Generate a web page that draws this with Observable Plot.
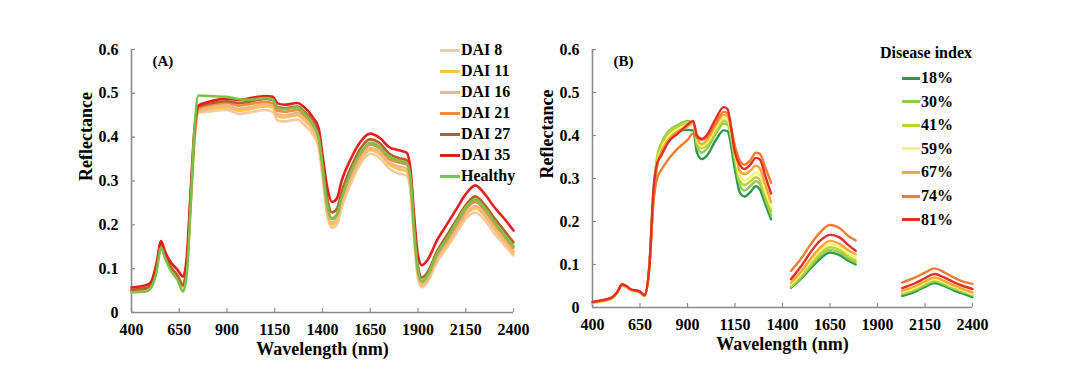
<!DOCTYPE html>
<html><head><meta charset="utf-8">
<script src="https://cdn.jsdelivr.net/npm/d3@7"></script>
<script src="https://cdn.jsdelivr.net/npm/@observablehq/plot@0.6"></script>
<style>
body{margin:0;background:#fff;}
#wrap{position:relative;width:1080px;height:379px;overflow:hidden;font-family:"Liberation Serif","Times New Roman",serif;font-weight:bold;color:#000;}
.panel{position:absolute;top:0;}
.leg{position:absolute;font-size:16px;line-height:18px;height:18px;display:flex;align-items:center;white-space:nowrap;}
.sw{display:inline-block;height:3px;margin-right:1px;}
</style></head>
<body><div id="wrap"></div>
<script>
// ---------- Panel A data ----------
const seriesA = ["DAI 8", "DAI 11", "DAI 16", "DAI 21", "DAI 27", "DAI 35", "Healthy"];
const colorsA = ["#f6c8a6", "#f9c646", "#f2b48c", "#ee8d3c", "#b8602a", "#e3201f", "#7cc24a"];
const wavelengthsA = [400, 475, 500, 530, 555, 575, 600, 640, 670, 690, 710, 730, 750, 800, 900, 960, 1000, 1100, 1140, 1165, 1200, 1270, 1300, 1350, 1380, 1400, 1425, 1450, 1475, 1500, 1550, 1600, 1650, 1700, 1750, 1800, 1840, 1860, 1880, 1900, 1920, 1950, 2000, 2050, 2100, 2150, 2200, 2250, 2300, 2350, 2400];
const dai8 = [0.05, 0.053, 0.06, 0.097, 0.155, 0.128, 0.104, 0.08, 0.06, 0.1, 0.245, 0.395, 0.455, 0.458, 0.462, 0.453, 0.455, 0.462, 0.458, 0.438, 0.436, 0.44, 0.43, 0.405, 0.375, 0.31, 0.22, 0.193, 0.2, 0.238, 0.296, 0.34, 0.362, 0.352, 0.328, 0.317, 0.312, 0.28, 0.165, 0.078, 0.057, 0.07, 0.115, 0.147, 0.18, 0.214, 0.228, 0.21, 0.18, 0.155, 0.13];
const dai11 = [0.05, 0.053, 0.06, 0.097, 0.154, 0.127, 0.103, 0.079, 0.058, 0.1, 0.25, 0.398, 0.458, 0.463, 0.468, 0.46, 0.462, 0.47, 0.467, 0.447, 0.445, 0.45, 0.44, 0.415, 0.385, 0.32, 0.23, 0.2, 0.209, 0.247, 0.305, 0.348, 0.37, 0.361, 0.337, 0.327, 0.322, 0.29, 0.175, 0.085, 0.063, 0.076, 0.122, 0.154, 0.188, 0.222, 0.238, 0.22, 0.19, 0.163, 0.136];
const dai16 = [0.05, 0.053, 0.06, 0.098, 0.155, 0.128, 0.104, 0.08, 0.06, 0.105, 0.255, 0.4, 0.46, 0.466, 0.472, 0.465, 0.467, 0.474, 0.472, 0.452, 0.45, 0.455, 0.445, 0.42, 0.39, 0.325, 0.235, 0.205, 0.214, 0.252, 0.31, 0.353, 0.375, 0.366, 0.342, 0.333, 0.328, 0.295, 0.18, 0.088, 0.066, 0.079, 0.125, 0.158, 0.192, 0.226, 0.243, 0.224, 0.195, 0.168, 0.14];
const dai21 = [0.052, 0.056, 0.063, 0.1, 0.157, 0.13, 0.106, 0.083, 0.065, 0.11, 0.26, 0.405, 0.465, 0.472, 0.478, 0.472, 0.474, 0.48, 0.478, 0.46, 0.458, 0.462, 0.452, 0.428, 0.398, 0.335, 0.245, 0.215, 0.224, 0.262, 0.32, 0.362, 0.383, 0.374, 0.35, 0.342, 0.338, 0.305, 0.19, 0.095, 0.072, 0.085, 0.132, 0.165, 0.2, 0.235, 0.252, 0.233, 0.203, 0.175, 0.148];
const dai27 = [0.052, 0.055, 0.062, 0.1, 0.158, 0.132, 0.108, 0.085, 0.062, 0.11, 0.265, 0.41, 0.47, 0.476, 0.482, 0.478, 0.48, 0.487, 0.485, 0.468, 0.466, 0.47, 0.46, 0.435, 0.405, 0.345, 0.26, 0.228, 0.236, 0.275, 0.332, 0.375, 0.395, 0.386, 0.362, 0.352, 0.348, 0.315, 0.2, 0.105, 0.08, 0.092, 0.14, 0.175, 0.21, 0.245, 0.265, 0.245, 0.215, 0.188, 0.16];
const dai35 = [0.057, 0.062, 0.068, 0.11, 0.163, 0.14, 0.118, 0.098, 0.082, 0.13, 0.28, 0.42, 0.472, 0.48, 0.488, 0.485, 0.487, 0.494, 0.492, 0.477, 0.474, 0.478, 0.47, 0.445, 0.42, 0.36, 0.285, 0.252, 0.26, 0.3, 0.352, 0.39, 0.408, 0.398, 0.377, 0.37, 0.365, 0.33, 0.22, 0.13, 0.108, 0.12, 0.165, 0.2, 0.235, 0.27, 0.29, 0.27, 0.24, 0.215, 0.187];
const healthy = [0.046, 0.048, 0.055, 0.09, 0.148, 0.125, 0.1, 0.075, 0.048, 0.09, 0.25, 0.42, 0.495, 0.494, 0.492, 0.487, 0.485, 0.489, 0.486, 0.466, 0.464, 0.468, 0.456, 0.43, 0.4, 0.335, 0.245, 0.213, 0.222, 0.262, 0.322, 0.365, 0.387, 0.378, 0.355, 0.347, 0.342, 0.31, 0.19, 0.095, 0.07, 0.085, 0.135, 0.168, 0.205, 0.24, 0.258, 0.238, 0.207, 0.178, 0.152];
const valuesA = [dai8, dai11, dai16, dai21, dai27, dai35, healthy];

// ---------- Panel B data ----------
const seriesB = ["18%", "30%", "41%", "59%", "67%", "74%", "81%"];
const colorsB = ["#2a9a4a", "#95c955", "#b9d32f", "#f5f27e", "#f6a833", "#ef7d31", "#e32f2a"];
const wavelengthsB = [400, 450, 500, 530, 555, 575, 600, 650, 675, 700, 720, 740, 760, 800, 850, 900, 930, 950, 975, 1000, 1050, 1090, 1110, 1150, 1175, 1200, 1230, 1260, 1280, 1310, 1340, 1400, 1445, 1500, 1550, 1600, 1650, 1700, 1750, 1785, 1900, 2030, 2100, 2150, 2200, 2250, 2300, 2350, 2400];
const di18 = [0.012, 0.016, 0.022, 0.035, 0.052, 0.05, 0.042, 0.036, 0.028, 0.1, 0.25, 0.33, 0.37, 0.395, 0.41, 0.413, 0.412, 0.36, 0.345, 0.352, 0.39, 0.412, 0.41, 0.32, 0.268, 0.258, 0.268, 0.282, 0.275, 0.24, 0.205, null, 0.046, 0.068, 0.092, 0.114, 0.128, 0.122, 0.108, 0.1, null, 0.027, 0.037, 0.048, 0.057, 0.05, 0.04, 0.032, 0.024];
const di30 = [0.012, 0.016, 0.022, 0.035, 0.053, 0.05, 0.042, 0.036, 0.028, 0.1, 0.26, 0.35, 0.38, 0.41, 0.425, 0.434, 0.43, 0.375, 0.36, 0.368, 0.405, 0.428, 0.426, 0.34, 0.285, 0.272, 0.282, 0.294, 0.288, 0.252, 0.215, null, 0.048, 0.071, 0.097, 0.12, 0.134, 0.128, 0.113, 0.105, null, 0.031, 0.041, 0.052, 0.061, 0.054, 0.044, 0.036, 0.028];
const di41 = [0.011, 0.015, 0.021, 0.034, 0.052, 0.049, 0.041, 0.035, 0.027, 0.1, 0.26, 0.345, 0.375, 0.405, 0.42, 0.428, 0.43, 0.385, 0.37, 0.376, 0.412, 0.435, 0.432, 0.35, 0.295, 0.285, 0.293, 0.303, 0.297, 0.26, 0.225, null, 0.05, 0.075, 0.102, 0.126, 0.14, 0.134, 0.118, 0.109, null, 0.033, 0.044, 0.055, 0.064, 0.057, 0.047, 0.039, 0.03];
const di59 = [0.01, 0.014, 0.02, 0.033, 0.05, 0.048, 0.04, 0.034, 0.026, 0.1, 0.25, 0.335, 0.365, 0.398, 0.415, 0.425, 0.43, 0.39, 0.375, 0.382, 0.418, 0.44, 0.437, 0.36, 0.305, 0.296, 0.303, 0.314, 0.308, 0.27, 0.235, null, 0.054, 0.08, 0.108, 0.133, 0.148, 0.141, 0.125, 0.116, null, 0.036, 0.047, 0.058, 0.066, 0.059, 0.049, 0.04, 0.031];
const di67 = [0.011, 0.015, 0.021, 0.034, 0.051, 0.049, 0.041, 0.035, 0.027, 0.1, 0.25, 0.33, 0.36, 0.39, 0.41, 0.42, 0.43, 0.395, 0.38, 0.388, 0.425, 0.448, 0.445, 0.37, 0.318, 0.31, 0.318, 0.33, 0.324, 0.285, 0.245, null, 0.058, 0.085, 0.115, 0.14, 0.155, 0.148, 0.132, 0.124, null, 0.039, 0.05, 0.061, 0.07, 0.062, 0.052, 0.043, 0.035];
const di74 = [0.012, 0.016, 0.022, 0.035, 0.052, 0.05, 0.042, 0.036, 0.028, 0.1, 0.24, 0.3, 0.318, 0.345, 0.37, 0.39, 0.405, 0.395, 0.39, 0.395, 0.43, 0.455, 0.452, 0.375, 0.342, 0.332, 0.342, 0.36, 0.358, 0.325, 0.29, null, 0.085, 0.115, 0.148, 0.176, 0.192, 0.185, 0.165, 0.156, null, 0.058, 0.07, 0.081, 0.091, 0.082, 0.07, 0.06, 0.055];
const di81 = [0.013, 0.017, 0.023, 0.036, 0.054, 0.051, 0.043, 0.037, 0.029, 0.1, 0.27, 0.335, 0.352, 0.385, 0.405, 0.425, 0.434, 0.4, 0.392, 0.4, 0.44, 0.466, 0.462, 0.36, 0.332, 0.322, 0.332, 0.348, 0.345, 0.305, 0.265, null, 0.066, 0.097, 0.13, 0.156, 0.169, 0.163, 0.144, 0.132, null, 0.045, 0.057, 0.068, 0.078, 0.07, 0.059, 0.05, 0.043];
const valuesB = [di18, di30, di41, di59, di67, di74, di81];

const xTicks = [400, 650, 900, 1150, 1400, 1650, 1900, 2150, 2400];
const yTicks = [0, 0.1, 0.2, 0.3, 0.4, 0.5, 0.6];

const dataA = seriesA.flatMap((s, i) => wavelengthsA.map((w, j) => ({s, w, r: valuesA[i][j]})));
const dataB = seriesB.flatMap((s, i) => wavelengthsB.map((w, j) => ({s, w, r: valuesB[i][j]})));

const gray = "#8a8a8a";
const font = '"Liberation Serif", "Times New Roman", serif';

function panel({data, series, colors, label, W, H, mL, mR, mT, mB, lw}) {
  const fw = W - mL - mR, fh = H - mT - mB;
  return Plot.plot({
    width: W, height: H, marginLeft: mL, marginRight: mR, marginTop: mT, marginBottom: mB,
    x: {domain: [400, 2400]},
    y: {domain: [0, 0.6]},
    color: {domain: series, range: colors},
    style: {fontFamily: font, fontSize: "16px", fontWeight: "bold", color: "#000", background: "transparent", overflow: "visible"},
    marks: [
      Plot.axisX({ticks: xTicks, tickSize: 0, tickPadding: 11, label: null, tickFormat: d => String(d)}),
      Plot.axisY({ticks: yTicks, tickSize: 0, tickPadding: 13, label: null, tickFormat: d => d === 0 ? "0" : d.toFixed(1)}),
      Plot.tickX(xTicks, {x: d => d, stroke: gray, strokeWidth: 1.2, insetTop: fh - 4}),
      Plot.tickY(yTicks, {y: d => d, stroke: gray, strokeWidth: 1.2, insetRight: fw - 4}),
      Plot.ruleY([0], {stroke: gray, strokeWidth: 1.6}),
      Plot.ruleX([400], {stroke: gray, strokeWidth: 1.6}),
      Plot.line(data, {x: "w", y: "r", z: "s", stroke: "s", strokeWidth: lw, curve: "monotone-x"}),
      Plot.text(["Wavelength (nm)"], {frameAnchor: "bottom", dy: 42, fontSize: 18, fontWeight: "bold"}),
      Plot.text(["Reflectance"], {frameAnchor: "left", dx: -45, rotate: -90, fontSize: 18, fontWeight: "bold"}),
      Plot.text([label], {frameAnchor: "top-left", dx: 21, dy: 6, textAnchor: "start", fontSize: 15, fontWeight: "bold"})
    ]
  });
}

const wrap = document.getElementById("wrap");
const A = panel({data: dataA, series: seriesA, colors: colorsA, label: "(A)", W: 540, H: 379, mL: 131, mR: 27, mT: 49, mB: 67, lw: 2.6});
A.classList.add("panel"); A.style.left = "0px";
const B = panel({data: dataB, series: seriesB, colors: colorsB, label: "(B)", W: 540, H: 379, mL: 52, mR: 108, mT: 49, mB: 72, lw: 2.4});
B.classList.add("panel"); B.style.left = "540px";
wrap.appendChild(A); wrap.appendChild(B);

function addLegendRow(x, cy, sw, color, text) {
  const d = document.createElement("div");
  d.className = "leg";
  d.style.left = x + "px"; d.style.top = (cy - 9) + "px";
  const s = document.createElement("span");
  s.className = "sw"; s.style.width = sw + "px"; s.style.background = color;
  d.appendChild(s);
  d.appendChild(document.createTextNode(text));
  wrap.appendChild(d);
}
seriesA.forEach((s, i) => addLegendRow(440, 50 + i * 21, 20, colorsA[i], s));
const head = document.createElement("div");
head.className = "leg"; head.style.left = "880px"; head.style.top = "44px"; head.textContent = "Disease index";
wrap.appendChild(head);
seriesB.forEach((s, i) => addLegendRow(902, 78 + i * 23.6, 18, colorsB[i], s));
</script></body></html>
